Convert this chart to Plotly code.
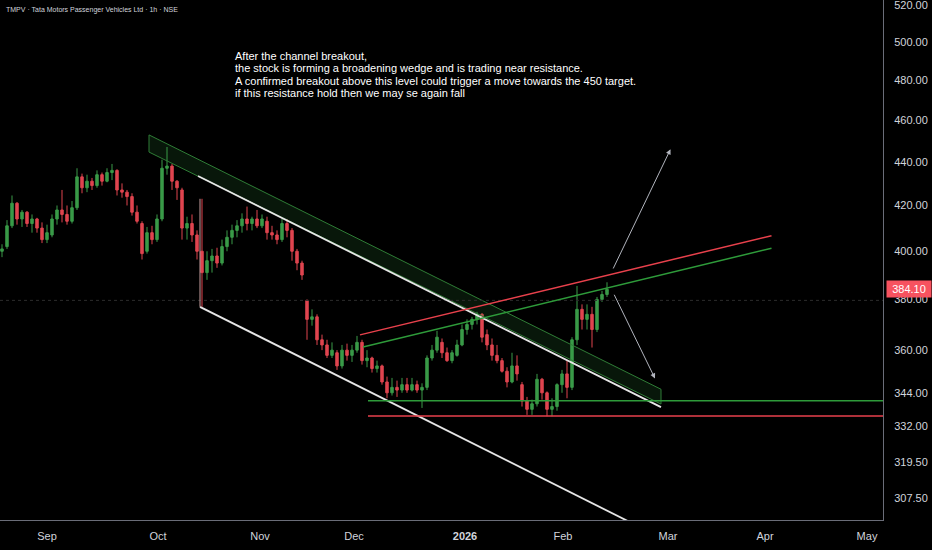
import math
import plotly.graph_objects as go

# === Candle data (one bar per session; index 0 = 1 Sep 2025) ===
first_idx = -9
opens = [400, 402, 411, 421, 414, 417, 412, 414, 410,
         405, 407, 414, 418, 416, 413, 419, 433, 428, 431, 429, 434, 431, 435, 436, 427, 426, 424, 417, 412, 400, 408,
         405, 414, 437, 438, 431, 427, 410, 412, 407, 400, 391, 396, 398, 395, 402, 406, 409, 411, 414,
         412, 414, 411, 413, 408, 407, 405, 412, 409, 400, 395, 379.5, 372, 373, 364, 362, 358, 359, 354, 360,
         358, 360, 363, 356, 357, 353, 354, 348, 344, 346, 345, 347, 345, 347, 345, 346, 357, 360, 363, 359, 356, 358,
         362, 368, 370, 372, 374, 366, 362, 358, 356, 352, 348, 354, 347, 341, 338, 340, 349, 344, 338, 339,
         347, 351, 346, 364, 376, 372, 374, 368, 380, 382]
highs = [403, 413.5, 424.5, 421.5, 418, 417.5, 416, 414.5, 412.5,
         411.5, 416, 420, 427, 420, 422, 437, 434.5, 434, 432.5, 436, 435, 437, 439, 436.5, 430, 427, 425.5, 420, 413, 410.5, 411,
         416, 441, 447, 439, 431.5, 428, 415, 416, 409, 423, 400, 401, 401.5, 405, 409, 411.5, 413.5, 416.5, 419.5,
         415, 418, 416, 415, 411, 409, 414, 414, 410, 401, 396, 380, 376, 374, 366, 364, 363, 360, 362, 362.5,
         362, 365.5, 364, 360, 357.5, 356, 354.5, 350, 349.5, 348.5, 349.5, 349.5, 349.5, 348.5, 347.5, 358, 362, 367.5, 364.5, 361, 360, 364,
         370, 372, 373, 375, 374.5, 368, 364.5, 362, 357, 353.5, 359, 358, 348, 342.5, 341.5, 351, 349.5, 344.5, 342,
         347.5, 352.5, 356, 365, 385.5, 378, 378, 377, 381, 383.5, 387]
lows = [397.5, 401, 410, 411.5, 410.5, 410.5, 408, 408, 403.5,
        403.5, 406, 411.5, 412.5, 411.5, 412, 418, 425.5, 426, 427, 428, 429, 430.5, 431.5, 424.5, 423.5, 420, 415.5, 412, 396.5, 399, 403,
        404, 413, 434, 427, 422.5, 405, 405, 404, 396.5, 377, 388, 391, 393, 394, 400, 403, 406, 408, 409,
        409, 410, 410, 405, 405, 403, 404, 406, 396, 392, 388, 364, 369.5, 362, 360, 357, 357, 352.5, 353, 356,
        355.5, 359, 354.5, 353.5, 351.5, 351.5, 347, 342, 343, 342.5, 344, 344, 344.5, 344, 338.5, 345, 356, 359, 357, 355.5, 355, 357.5,
        361.5, 366, 368, 370, 363, 360, 356, 355, 351.5, 346, 347.5, 348.5, 339, 336, 336, 339, 341.5, 335.5, 335.5,
        337.5, 344, 342, 345, 362, 368, 368, 361, 367, 379, 381]
closes = [401, 411, 421, 414, 417, 412, 414, 410, 405,
          408, 414, 418, 416, 413, 419, 433, 428, 431, 429, 434, 431, 435, 436, 427, 426, 424, 417, 413, 399, 408, 405,
          414, 437, 438, 431, 428, 410, 412, 407, 400, 391, 396, 398, 395, 402, 406, 409, 411, 414, 412,
          414, 411, 414, 408, 407, 405, 412, 409, 400, 395, 390, 372, 373, 364, 362, 358, 360, 354, 360, 358,
          360, 363, 356, 357, 353, 354, 348, 344, 346, 345, 347, 345, 347, 345, 346, 357, 360, 365, 359, 356, 359, 362,
          368, 370, 372, 374, 365, 362, 358, 356, 352, 348, 354, 351, 341, 338, 340, 349, 344, 338, 339,
          347, 351, 346, 364, 376, 372, 374, 368, 380, 382, 384.1]
bar_idx = list(range(first_idx, first_idx + len(closes)))
last_price = 384.10

# === Axis labels ===
month_pos = [0, 22.2, 42.6, 61.4, 83.6, 103.2, 124.2, 143.6, 164]
month_text = ["Sep", "Oct", "Nov", "Dec", "<b>2026</b>", "Feb", "Mar", "Apr", "May"]
price_ticks = [307.5, 319.5, 332, 344, 360, 380, 400, 420, 440, 460, 480, 500, 520]

# === Drawings (bar index, price) ===
band_upper = [(20.4, 452.8), (122.8, 345.3)]
band_lower = [(20.4, 444.6), (122.8, 339.9)]
chan_top = [(30.2, 433.4), (122.8, 338.8)]
chan_bottom = [(30.6, 377.0), (122.8, 294.8)]
chan_side = [(30.6, 423.0), (30.6, 377.0)]
wedge_red = [(62.6, 365.9), (144.9, 406.7)]
wedge_green = [(63.2, 361.2), (144.9, 401.3)]
support_green = 341.1
support_red = 335.6
support_start = 64.2
prev_close = 379.6
arrow_up = [(113.1, 392.1), (124.7, 445.9)]
arrow_down = [(113.3, 382.5), (121.6, 349.3)]

note_lines = [
    "After the channel breakout,",
    "the stock is forming a broadening wedge and is trading near resistance.",
    "A confirmed breakout above this level could trigger a move towards the 450 target.",
    "if this resistance hold then we may se again fall",
]

W, H = 932, 550
PLOT_W, PLOT_H = 883, 520
x_range = [-9.4, 167.2]
y_range = [math.log10(300.4), math.log10(522.8)]

fig = go.Figure()

fig.add_trace(go.Candlestick(
    x=bar_idx, open=opens, high=highs, low=lows, close=closes,
    increasing=dict(line=dict(color="#3a9a48", width=1), fillcolor="#3a9a48"),
    decreasing=dict(line=dict(color="#e0454f", width=1), fillcolor="#e0454f"),
    whiskerwidth=0, showlegend=False, hoverinfo="skip",
))

# green shaded channel
fig.add_trace(go.Scatter(
    x=[band_upper[0][0], band_upper[1][0], band_lower[1][0], band_lower[0][0], band_upper[0][0]],
    y=[band_upper[0][1], band_upper[1][1], band_lower[1][1], band_lower[0][1], band_upper[0][1]],
    mode="lines", fill="toself", fillcolor="rgba(60,160,70,0.14)",
    line=dict(color="#2f7d36", width=1), showlegend=False, hoverinfo="skip",
))


def seg(pts, color, width=1.5, dash="solid"):
    fig.add_trace(go.Scatter(
        x=[p[0] for p in pts], y=[p[1] for p in pts], mode="lines",
        line=dict(color=color, width=width, dash=dash),
        showlegend=False, hoverinfo="skip",
    ))


seg([(x_range[0], prev_close), (x_range[1], prev_close)], "#2c2c2c", 1, "dot")
seg(chan_top, "#e6e6e6", 1.8)
seg(chan_bottom, "#e6e6e6", 1.8)
seg(chan_side, "#c8a0a0", 1)
seg(wedge_red, "#e8414c", 1.5)
seg(wedge_green, "#2e9b3a", 1.5)
seg([(support_start, support_green), (x_range[1] + 5, support_green)], "#2e9b3a", 1.5)
seg([(support_start, support_red), (x_range[1] + 5, support_red)], "#e8414c", 1.5)

# arrows
for a in (arrow_up, arrow_down):
    fig.add_annotation(
        x=a[1][0], y=math.log10(a[1][1]), ax=a[0][0], ay=math.log10(a[0][1]),
        xref="x", yref="y", axref="x", ayref="y", text="",
        showarrow=True, arrowhead=2, arrowsize=1, arrowwidth=1, arrowcolor="#b2b5be",
    )

# chart title
fig.add_annotation(
    text="TMPV · Tata Motors Passenger Vehicles Ltd · 1h · NSE",
    xref="paper", yref="paper", x=4 / PLOT_W, y=1 - 10 / PLOT_H,
    xanchor="left", yanchor="middle", showarrow=False,
    font=dict(family="Liberation Sans", size=7, color="#d1d4dc"),
)

# note text
for i, line in enumerate(note_lines):
    fig.add_annotation(
        text=line, xref="paper", yref="paper",
        x=233 / PLOT_W, y=1 - (56 + 12.3 * i) / PLOT_H,
        xanchor="left", yanchor="middle", showarrow=False,
        font=dict(family="Liberation Sans", size=11, color="#ffffff"),
    )

# last price label
fig.add_annotation(
    text=f"{last_price:.2f}", xref="paper", yref="y", x=1, y=math.log10(last_price),
    xanchor="left", yanchor="middle", xshift=3, showarrow=False,
    bgcolor="#f7525f", width=42, height=14, borderpad=1,
    font=dict(family="Liberation Sans", size=11, color="#ffffff"),
)

fig.update_layout(
    width=W, height=H,
    margin=dict(l=0, r=W - PLOT_W, t=0, b=H - PLOT_H),
    paper_bgcolor="#000000", plot_bgcolor="#000000",
    xaxis=dict(
        range=x_range, showgrid=False, zeroline=False, rangeslider=dict(visible=False),
        tickvals=month_pos, ticktext=month_text, ticks="", ticklabelstandoff=6,
        showline=True, linecolor="#6a6d78", linewidth=1,
        tickfont=dict(family="Liberation Sans", size=11, color="#d1d4dc"),
    ),
    yaxis=dict(
        type="log", range=y_range, side="right", showgrid=False, zeroline=False,
        tickvals=price_ticks, ticktext=[f"{v:.2f}" for v in price_ticks],
        ticks="", ticklabelstandoff=8, ticklabeloverflow="allow",
        showline=True, linecolor="#6a6d78", linewidth=1,
        tickfont=dict(family="Liberation Sans", size=11, color="#d1d4dc"),
    ),
)

fig.write_html("out.html", config={"displayModeBar": False},
               post_script="document.body.style.margin='0';")
